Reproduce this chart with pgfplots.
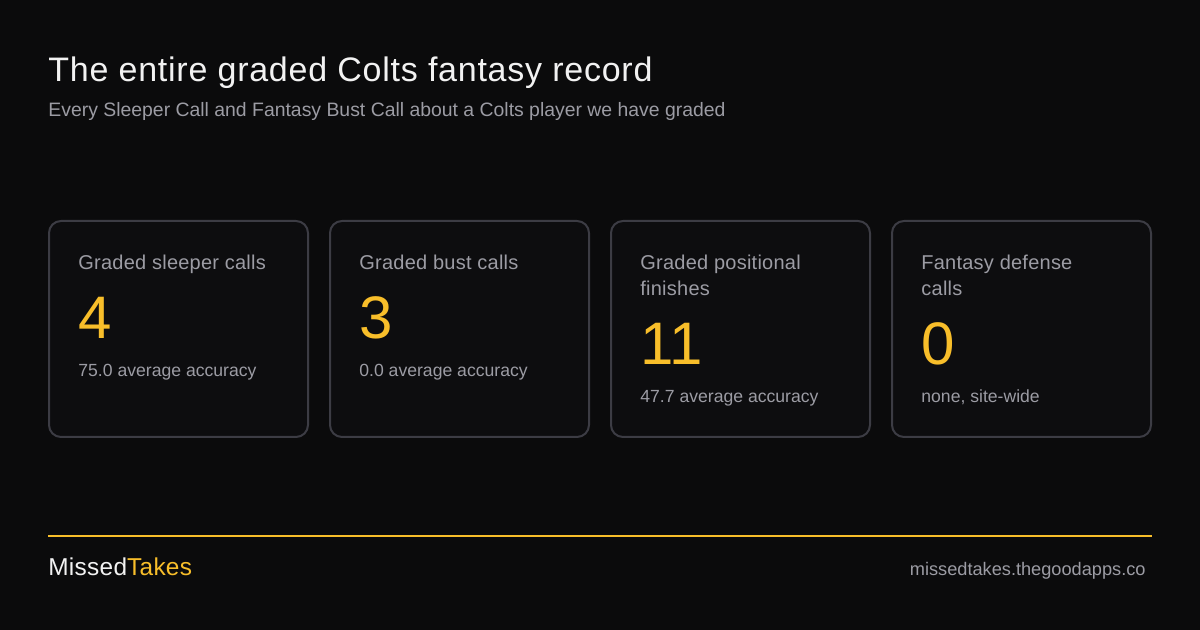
\documentclass[border=0pt]{standalone}
\usepackage{pgfplots}
\pgfplotsset{compat=1.18}
\usepackage{fontspec}
\setmainfont{Liberation Sans}
\newfontfamily\spaced[LetterSpace=2.2]{Liberation Sans}
\newfontfamily\slight[LetterSpace=1.2]{Liberation Sans}
\definecolor{bg}{HTML}{0B0B0C}
\definecolor{cardbg}{HTML}{0D0D0F}
\definecolor{cardline}{HTML}{3C3C44}
\definecolor{amber}{HTML}{F8BE2A}
\definecolor{titlefg}{HTML}{F2F2F2}
\definecolor{muted}{HTML}{9C9CA4}

% one row per card: left edge, baseline of the big number, value
\pgfplotstableread{
x   y   v
78  339 4
359 339 3
640 365 11
921 365 0
}\cards

\begin{document}
\begin{tikzpicture}
\begin{axis}[width=600pt,height=315pt,scale only axis,hide axis,
  xmin=0,xmax=1200,ymin=0,ymax=630,y dir=reverse,clip=false]
\fill[bg] (axis cs:0,0) rectangle (axis cs:1200,630);
\coordinate (ll) at (axis cs:0,630);
\coordinate (ur) at (axis cs:1200,0);

\node[anchor=base west,inner sep=0pt,text=titlefg,font=\spaced\fontsize{17}{20}\selectfont]
  at (axis cs:48,82) {The entire graded Colts fantasy record};
\node[anchor=base west,inner sep=0pt,text=muted,font=\fontsize{9.7}{12}\selectfont]
  at (axis cs:48,117) {Every Sleeper Call and Fantasy Bust Call about a Colts player we have graded};

\pgfplotsinvokeforeach{49,330,611,892}{
  \draw[cardline,fill=cardbg,line width=1pt,rounded corners=6pt]
    (axis cs:#1,221) rectangle (axis cs:#1+259,437);
}

\tikzset{lbl/.style={anchor=base west,inner sep=0pt,text=muted,font=\slight\fontsize{10}{13}\selectfont},
  sub/.style={anchor=base west,inner sep=0pt,text=muted,font=\fontsize{8.8}{11}\selectfont}}
\node[lbl] at (axis cs:78,270) {Graded sleeper calls};
\node[lbl] at (axis cs:359,270) {Graded bust calls};
\node[lbl] at (axis cs:640,270) {Graded positional};
\node[lbl] at (axis cs:640,296) {finishes};
\node[lbl] at (axis cs:921,270) {Fantasy defense};
\node[lbl] at (axis cs:921,296) {calls};

\addplot[draw=none,mark=none,nodes near coords,point meta=explicit symbolic,
  nodes near coords style={anchor=base west,inner sep=0pt,text=amber,
    font=\fontsize{30}{34}\selectfont}]
  table[x=x,y=y,meta=v] {\cards};

\node[sub] at (axis cs:78,377) {75.0 average accuracy};
\node[sub] at (axis cs:359,377) {0.0 average accuracy};
\node[sub] at (axis cs:640,403) {47.7 average accuracy};
\node[sub] at (axis cs:921,403) {none, site-wide};

\draw[amber,line width=1pt] (axis cs:48,536) -- (axis cs:1152,536);
\node[anchor=base west,inner sep=0pt,font=\slight\fontsize{12.2}{14}\selectfont]
  at (axis cs:48,575) {\textcolor{titlefg}{Missed}\textcolor{amber}{Takes}};
\node[anchor=base east,inner sep=0pt,text=muted,font=\fontsize{9.1}{11}\selectfont]
  at (axis cs:1146,575) {missedtakes.thegoodapps.co};
\end{axis}
\pgfresetboundingbox
\useasboundingbox (ll) rectangle (ur);
\end{tikzpicture}
\end{document}
